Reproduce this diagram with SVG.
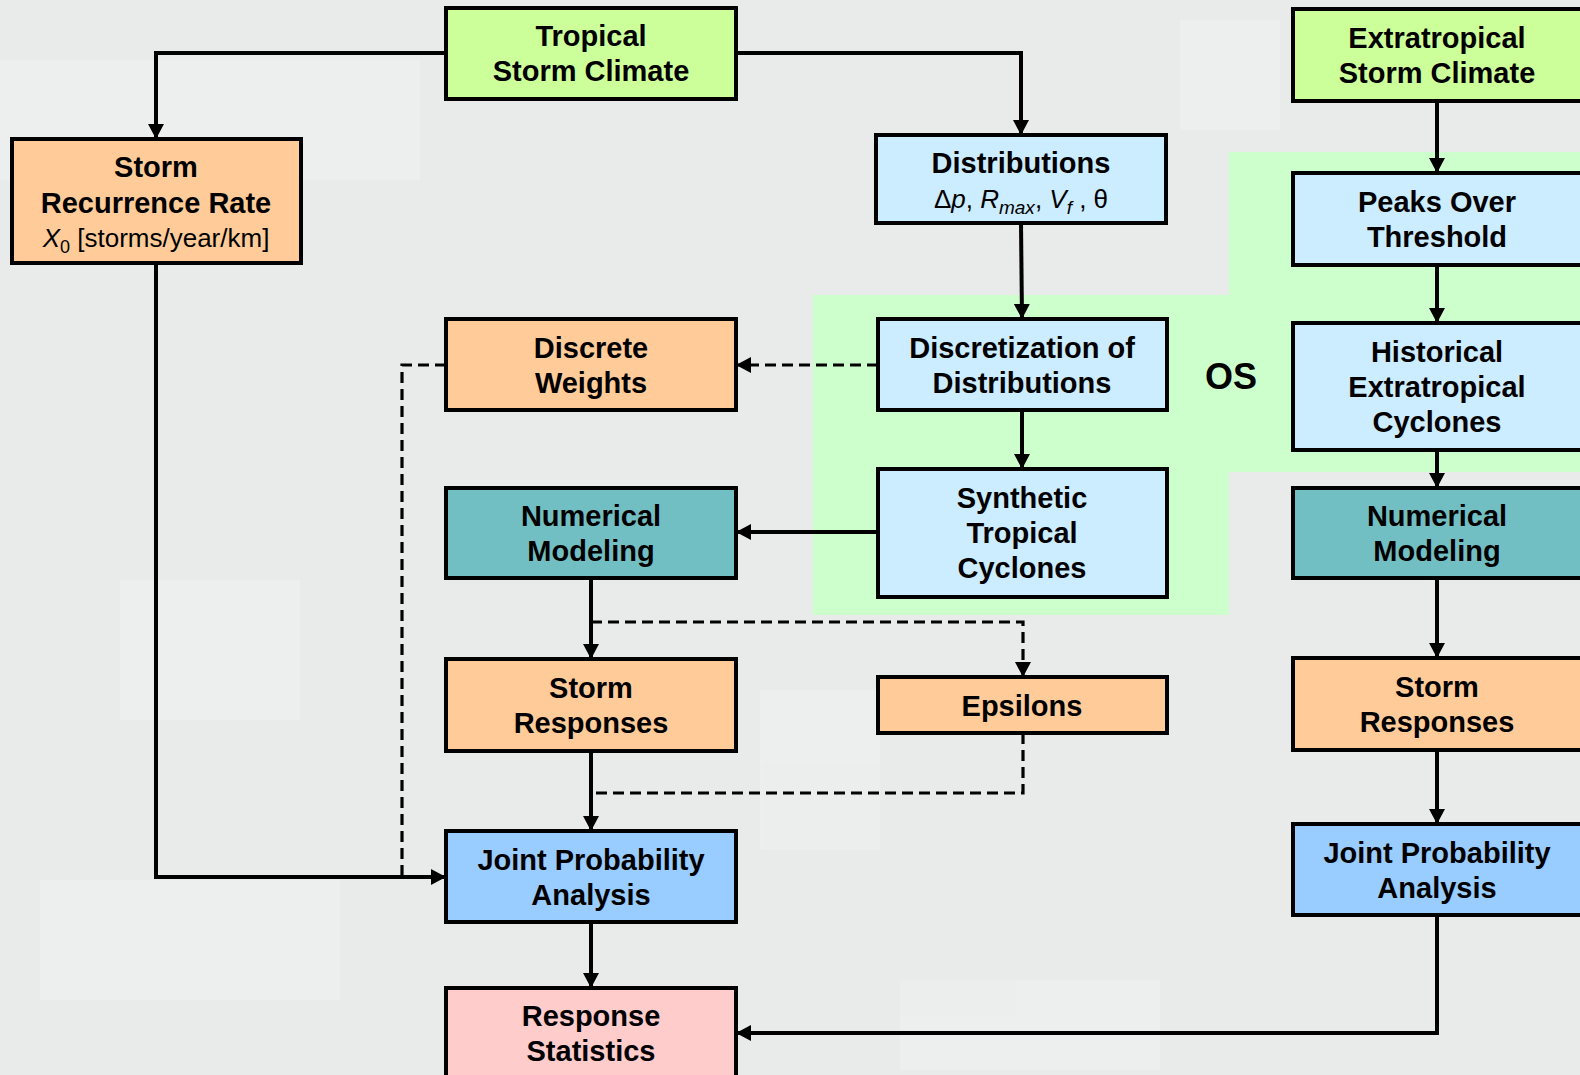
<svg xmlns="http://www.w3.org/2000/svg" width="1580" height="1075" viewBox="0 0 1580 1075">
<style>
.box{stroke:#000;stroke-width:4}
.clim{fill:#CCFF99}
.org{fill:#FFCC99}
.lb{fill:#CCECFF}
.teal{fill:#72BFC3}
.jp{fill:#99CCFF}
.rs{fill:#FFCCCC}
.t{font-family:"Liberation Sans",Arial,sans-serif;font-weight:bold;font-size:29px;text-anchor:middle;fill:#000}
.r{font-family:"Liberation Sans",Arial,sans-serif;font-weight:normal;font-size:26px;text-anchor:middle;fill:#000}
.c{fill:none;stroke:#000;stroke-width:4}
.d{fill:none;stroke:#000;stroke-width:3.2;stroke-dasharray:11 6}
</style>
<defs>
<marker id="a" markerUnits="userSpaceOnUse" markerWidth="18" markerHeight="18" refX="15" refY="8" orient="auto">
<path d="M0,0 L15,8 L0,16 Z" fill="#000"/>
</marker>
</defs>
<rect x="0" y="0" width="1580" height="1075" fill="#E8EBEA"/>
<g opacity="0.35" fill="#F4F6F5">
<rect x="0" y="60" width="420" height="120"/>
<rect x="120" y="580" width="180" height="140"/>
<rect x="40" y="880" width="300" height="120"/>
<rect x="760" y="690" width="120" height="160"/>
<rect x="900" y="980" width="260" height="90"/>
<rect x="1180" y="20" width="100" height="110"/>
</g>
<path d="M813,295 L1229,295 L1229,152 L1580,152 L1580,472 L1229,472 L1229,615 L813,615 Z" fill="#CCFFCC"/>
<text x="1231" y="389" class="t" style="font-size:36px">OS</text>

<g id="connectors">
<path class="c" d="M446,53 L156,53 L156,139" marker-end="url(#a)"/>
<path class="c" d="M736,53 L1021,53 L1021,135" marker-end="url(#a)"/>
<path class="c" d="M1021,223 L1022,319" marker-end="url(#a)"/>
<path class="d" d="M878,365 L736,365" marker-end="url(#a)"/>
<path class="d" d="M446,365 L402,365 L402,877"/>
<path class="c" d="M156,263 L156,877 L446,877" marker-end="url(#a)"/>
<path class="c" d="M1022,410 L1022,469" marker-end="url(#a)"/>
<path class="c" d="M878,532 L736,532" marker-end="url(#a)"/>
<path class="c" d="M591,578 L591,659" marker-end="url(#a)"/>
<path class="d" d="M591,622 L1023,622 L1023,677" marker-end="url(#a)"/>
<path class="d" d="M1023,733 L1023,793 L591,793"/>
<path class="c" d="M591,751 L591,831" marker-end="url(#a)"/>
<path class="c" d="M591,922 L591,988" marker-end="url(#a)"/>
<path class="c" d="M1437,101 L1437,173" marker-end="url(#a)"/>
<path class="c" d="M1437,265 L1437,323" marker-end="url(#a)"/>
<path class="c" d="M1437,450 L1437,488" marker-end="url(#a)"/>
<path class="c" d="M1437,578 L1437,658" marker-end="url(#a)"/>
<path class="c" d="M1437,750 L1437,824" marker-end="url(#a)"/>
<path class="c" d="M1437,915 L1437,1033 L736,1033" marker-end="url(#a)"/>
</g>

<g id="tropical-storm-climate">
<rect class="box clim" x="446" y="8" width="290" height="91"/>
<text class="t" x="591" y="46">Tropical</text>
<text class="t" x="591" y="81">Storm Climate</text>
</g>
<g id="storm-recurrence-rate">
<rect class="box org" x="12" y="139" width="289" height="124"/>
<text class="t" x="156" y="177">Storm</text>
<text class="t" x="156" y="213">Recurrence Rate</text>
<text class="r" x="156" y="247"><tspan font-style="italic">X</tspan><tspan font-size="18" dy="6">0</tspan><tspan dy="-6"> [storms/year/km]</tspan></text>
</g>
<g id="distributions">
<rect class="box lb" x="876" y="135" width="290" height="88"/>
<text class="t" x="1021" y="173">Distributions</text>
<text class="r" x="1021" y="208">Δ<tspan font-style="italic">p</tspan>, <tspan font-style="italic">R</tspan><tspan font-style="italic" font-size="19" dy="6">max</tspan><tspan dy="-6">, </tspan><tspan font-style="italic">V</tspan><tspan font-style="italic" font-size="19" dy="6">f</tspan><tspan dy="-6"> , θ</tspan></text>
</g>
<g id="discrete-weights">
<rect class="box org" x="446" y="319" width="290" height="91"/>
<text class="t" x="591" y="358">Discrete</text>
<text class="t" x="591" y="393">Weights</text>
</g>
<g id="discretization">
<rect class="box lb" x="878" y="319" width="289" height="91"/>
<text class="t" x="1022" y="358">Discretization of</text>
<text class="t" x="1022" y="393">Distributions</text>
</g>
<g id="numerical-modeling-tc">
<rect class="box teal" x="446" y="488" width="290" height="90"/>
<text class="t" x="591" y="526">Numerical</text>
<text class="t" x="591" y="561">Modeling</text>
</g>
<g id="synthetic-tc">
<rect class="box lb" x="878" y="469" width="289" height="128"/>
<text class="t" x="1022" y="508">Synthetic</text>
<text class="t" x="1022" y="543">Tropical</text>
<text class="t" x="1022" y="578">Cyclones</text>
</g>
<g id="storm-responses-tc">
<rect class="box org" x="446" y="659" width="290" height="92"/>
<text class="t" x="591" y="698">Storm</text>
<text class="t" x="591" y="733">Responses</text>
</g>
<g id="epsilons">
<rect class="box org" x="878" y="677" width="289" height="56"/>
<text class="t" x="1022" y="716">Epsilons</text>
</g>
<g id="joint-probability-tc">
<rect class="box jp" x="446" y="831" width="290" height="91"/>
<text class="t" x="591" y="870">Joint Probability</text>
<text class="t" x="591" y="905">Analysis</text>
</g>
<g id="response-statistics">
<rect class="box rs" x="446" y="988" width="290" height="95"/>
<text class="t" x="591" y="1026">Response</text>
<text class="t" x="591" y="1061">Statistics</text>
</g>
<g id="extratropical-storm-climate">
<rect class="box clim" x="1293" y="9" width="290" height="92"/>
<text class="t" x="1437" y="48">Extratropical</text>
<text class="t" x="1437" y="83">Storm Climate</text>
</g>
<g id="peaks-over-threshold">
<rect class="box lb" x="1293" y="173" width="290" height="92"/>
<text class="t" x="1437" y="212">Peaks Over</text>
<text class="t" x="1437" y="247">Threshold</text>
</g>
<g id="historical-etc">
<rect class="box lb" x="1293" y="323" width="290" height="127"/>
<text class="t" x="1437" y="362">Historical</text>
<text class="t" x="1437" y="397">Extratropical</text>
<text class="t" x="1437" y="432">Cyclones</text>
</g>
<g id="numerical-modeling-etc">
<rect class="box teal" x="1293" y="488" width="290" height="90"/>
<text class="t" x="1437" y="526">Numerical</text>
<text class="t" x="1437" y="561">Modeling</text>
</g>
<g id="storm-responses-etc">
<rect class="box org" x="1293" y="658" width="290" height="92"/>
<text class="t" x="1437" y="697">Storm</text>
<text class="t" x="1437" y="732">Responses</text>
</g>
<g id="joint-probability-etc">
<rect class="box jp" x="1293" y="824" width="290" height="91"/>
<text class="t" x="1437" y="863">Joint Probability</text>
<text class="t" x="1437" y="898">Analysis</text>
</g>
</svg>
